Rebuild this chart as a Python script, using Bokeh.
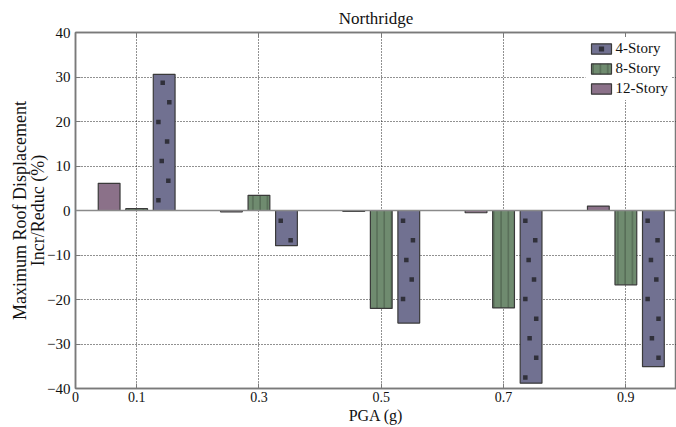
from bokeh.plotting import figure
from bokeh.models import (FixedTicker, Span, LinearAxis, Legend, LegendItem,
                          ColumnDataSource, Range1d)
from bokeh.transform import dodge
from bokeh.embed import file_html
from bokeh.resources import INLINE

# ---- data -------------------------------------------------------------
pga_labels = ["0.1", "0.3", "0.5", "0.7", "0.9"]
story_4 = [30.6, -7.9, -25.3, -38.8, -35.1]
story_8 = [0.4, 3.4, -22.0, -21.9, -16.7]
story_12 = [6.1, -0.3, -0.2, -0.5, 1.0]
y_ticks = [-40, -30, -20, -10, 0, 10, 20, 30, 40]

xpos = [i + 1 for i in range(len(pga_labels))]
src = ColumnDataSource(dict(x=xpos, s4=story_4, s8=story_8, s12=story_12))

FONT = "Liberation Serif"
C4, C8, C12 = "#717191", "#6f8b6f", "#8b7189"
EDGE = "#3a3a3a"
AX = "#7a7a7a"
TXT = "#111111"

off, bw = 0.225, 0.178

# fill pattern for the 4-Story bars: sparse square dots laid inside each bar
# (pattern style constants, positions derived from the bar values)
DOT_STEP = 4.4
DOT_START = 2.3
DOT_JITTER = [-0.047, 0.034, -0.02, 0.024, -0.047, 0.042, -0.012, 0.042]
dot_x, dot_y = [], []
for x, v in zip(xpos, story_4):
    sgn = 1 if v >= 0 else -1
    k = 0
    d = DOT_START
    while d < abs(v) - 1.0:
        dot_x.append(x + off + DOT_JITTER[k % len(DOT_JITTER)])
        dot_y.append(sgn * d)
        k += 1
        d += DOT_STEP
dot_src = ColumnDataSource(dict(x=dot_x, y=dot_y))

p = figure(width=676, height=427, output_backend="svg", toolbar_location=None,
           x_range=Range1d(0.5, 5.414), y_range=Range1d(-40, 40),
           min_border_left=75, min_border_top=32, min_border_bottom=39,
           min_border_right=0, title="Northridge")

p.title.text_font = FONT
p.title.text_font_size = "17px"
p.title.text_font_style = "normal"
p.title.align = "center"
p.title.offset = 4
p.title.text_color = TXT

r12 = p.vbar(x=dodge("x", -off), top="s12", bottom=0, width=bw, source=src,
             fill_color=C12, line_color=EDGE, line_width=1.2)
r8 = p.vbar(x=dodge("x", 0), top="s8", bottom=0, width=bw, source=src,
            fill_color=C8, line_color=EDGE, line_width=1.2,
            hatch_pattern="vertical_line", hatch_scale=7.3, hatch_weight=1.2,
            hatch_color="#4c614d", hatch_alpha=0.9)
r4 = p.vbar(x=dodge("x", off), top="s4", bottom=0, width=bw, source=src,
            fill_color=C4, line_color=EDGE, line_width=1.2)
rdots = p.scatter(x="x", y="y", source=dot_src, marker="square", size=4.5,
                  fill_color="#30303a", line_color=None)

# baseline
p.add_layout(Span(location=0, dimension="width", line_color="#8a8a8a", line_width=1.5))

# axes
tick_pos = [0.5] + xpos
p.xaxis.ticker = FixedTicker(ticks=tick_pos)
p.xaxis.major_label_overrides = {0.5: "0", **{float(x): l for x, l in zip(xpos, pga_labels)}}
p.yaxis.ticker = FixedTicker(ticks=y_ticks)
for ax in (p.xaxis, p.yaxis):
    ax.axis_line_color = AX
    ax.axis_line_width = 1.5
    ax.major_tick_in = 5
    ax.major_tick_out = 0
    ax.major_tick_line_color = AX
    ax.minor_tick_line_color = None
    ax.major_label_text_font = FONT
    ax.major_label_text_color = TXT
    ax.axis_label_text_font = FONT
    ax.axis_label_text_font_style = "normal"
    ax.axis_label_text_color = TXT
p.xaxis.major_label_text_font_size = "14px"
p.yaxis.major_label_text_font_size = "15px"
p.xaxis.major_label_standoff = 3
p.yaxis.major_label_standoff = 5
p.xaxis.axis_label = "PGA (g)"
p.xaxis.axis_label_text_font_size = "16px"
p.xaxis.axis_label_standoff = 2
p.yaxis.axis_label = "Maximum Roof Displacement\nIncr/Reduc (%)"
p.yaxis.axis_label_text_font_size = "18px"
p.yaxis.axis_label_text_line_height = 0.88
p.yaxis.axis_label_standoff = -4

top_ax = LinearAxis(ticker=FixedTicker(ticks=xpos), major_label_text_font_size="0px",
                    major_label_standoff=0,
                    axis_line_color=AX, axis_line_width=1.5, major_tick_in=5,
                    major_tick_out=0, major_tick_line_color=AX, minor_tick_line_color=None)
top_ax.major_label_overrides = {float(x): "" for x in xpos}
p.add_layout(top_ax, "above")

# grid
p.xgrid.ticker = FixedTicker(ticks=xpos)
p.ygrid.ticker = FixedTicker(ticks=y_ticks[1:-1])
for g in (p.xgrid, p.ygrid):
    g.grid_line_color = "#222222"
    g.grid_line_dash = "1 2"
    g.grid_line_width = 1
p.outline_line_color = AX
p.outline_line_width = 1.5
p.background_fill_color = "white"
p.border_fill_color = "white"

legend = Legend(items=[LegendItem(label="4-Story", renderers=[r4, rdots]),
                       LegendItem(label="8-Story", renderers=[r8]),
                       LegendItem(label="12-Story", renderers=[r12])],
                location="top_right", margin=5, padding=3, spacing=3,
                glyph_width=25, glyph_height=13, label_height=15,
                label_standoff=2, label_text_font=FONT, label_text_font_size="15px",
                label_text_color=TXT, border_line_alpha=0,
                background_fill_color="white", background_fill_alpha=1)
p.add_layout(legend)

open("out.html", "w").write(file_html(p, INLINE))
